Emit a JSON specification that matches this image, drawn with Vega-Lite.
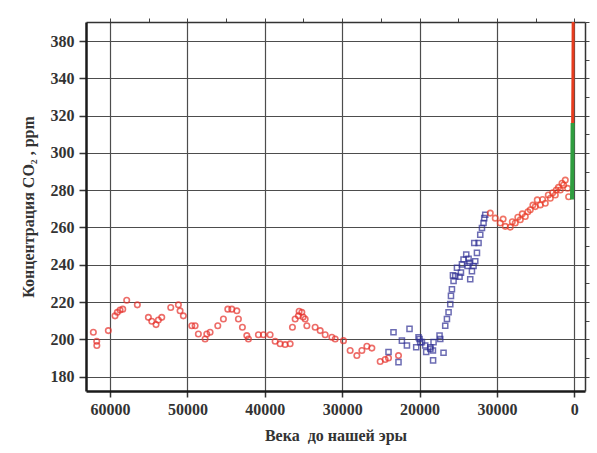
{
  "$schema": "https://vega.github.io/schema/vega-lite/v6.json",
  "width": 499,
  "height": 369,
  "autosize": {"type": "none"},
  "padding": {"left": 86, "top": 22, "right": 12, "bottom": 62},
  "background": "#ffffff",
  "config": {"view": {"stroke": null}, "font": "Liberation Serif"},
  "data": {
    "values": [
      {"s": "r", "t": 62150, "c": 203.8}, {"s": "r", "t": 61715, "c": 199.0}, {"s": "r", "t": 61700, "c": 196.7},
      {"s": "r", "t": 60215, "c": 204.7}, {"s": "r", "t": 59350, "c": 212.6}, {"s": "r", "t": 59050, "c": 214.5},
      {"s": "r", "t": 58700, "c": 215.7}, {"s": "r", "t": 58350, "c": 216.2}, {"s": "r", "t": 57840, "c": 221.0},
      {"s": "r", "t": 56465, "c": 218.5}, {"s": "r", "t": 55040, "c": 211.8}, {"s": "r", "t": 54600, "c": 209.7},
      {"s": "r", "t": 54050, "c": 207.9}, {"s": "r", "t": 53750, "c": 210.4}, {"s": "r", "t": 53310, "c": 211.8},
      {"s": "r", "t": 52150, "c": 217.1}, {"s": "r", "t": 51160, "c": 218.5}, {"s": "r", "t": 50945, "c": 215.3},
      {"s": "r", "t": 50520, "c": 212.6}, {"s": "r", "t": 49430, "c": 207.3}, {"s": "r", "t": 49000, "c": 207.3},
      {"s": "r", "t": 48580, "c": 202.9}, {"s": "r", "t": 47710, "c": 200.2}, {"s": "r", "t": 47490, "c": 202.9},
      {"s": "r", "t": 47065, "c": 203.8}, {"s": "r", "t": 46070, "c": 207.3}, {"s": "r", "t": 45345, "c": 210.9},
      {"s": "r", "t": 44775, "c": 216.2}, {"s": "r", "t": 44260, "c": 216.2}, {"s": "r", "t": 43610, "c": 215.3},
      {"s": "r", "t": 43405, "c": 210.9}, {"s": "r", "t": 42890, "c": 206.5}, {"s": "r", "t": 42320, "c": 202.0},
      {"s": "r", "t": 42110, "c": 200.2}, {"s": "r", "t": 40820, "c": 202.5}, {"s": "r", "t": 40170, "c": 202.5},
      {"s": "r", "t": 39310, "c": 202.5}, {"s": "r", "t": 38660, "c": 199.0}, {"s": "r", "t": 38015, "c": 197.6},
      {"s": "r", "t": 37370, "c": 197.2}, {"s": "r", "t": 36720, "c": 197.6}, {"s": "r", "t": 36425, "c": 206.5},
      {"s": "r", "t": 36075, "c": 210.9}, {"s": "r", "t": 35650, "c": 212.6}, {"s": "r", "t": 35560, "c": 215.1},
      {"s": "r", "t": 35210, "c": 214.5}, {"s": "r", "t": 35040, "c": 212.0}, {"s": "r", "t": 34780, "c": 210.9},
      {"s": "r", "t": 34560, "c": 207.3}, {"s": "r", "t": 33490, "c": 206.5}, {"s": "r", "t": 32840, "c": 204.7},
      {"s": "r", "t": 32195, "c": 202.5}, {"s": "r", "t": 31330, "c": 201.1}, {"s": "r", "t": 30900, "c": 200.2},
      {"s": "r", "t": 29830, "c": 199.3}, {"s": "r", "t": 28965, "c": 194.0}, {"s": "r", "t": 28100, "c": 191.3},
      {"s": "r", "t": 27450, "c": 194.0}, {"s": "r", "t": 26805, "c": 196.3}, {"s": "r", "t": 26160, "c": 195.3},
      {"s": "r", "t": 25085, "c": 188.1}, {"s": "r", "t": 24440, "c": 189.2}, {"s": "r", "t": 24010, "c": 190.0},
      {"s": "r", "t": 22720, "c": 191.3},
      {"s": "b", "t": 23365, "c": 203.8}, {"s": "b", "t": 24010, "c": 193.2}, {"s": "b", "t": 22720, "c": 187.8},
      {"s": "b", "t": 21295, "c": 205.6}, {"s": "b", "t": 22280, "c": 199.3}, {"s": "b", "t": 21630, "c": 196.7},
      {"s": "b", "t": 20430, "c": 195.8}, {"s": "b", "t": 20130, "c": 201.1}, {"s": "b", "t": 20000, "c": 200.2},
      {"s": "b", "t": 19910, "c": 198.5}, {"s": "b", "t": 19690, "c": 198.5}, {"s": "b", "t": 19265, "c": 196.7},
      {"s": "b", "t": 19140, "c": 193.2}, {"s": "b", "t": 18620, "c": 195.8}, {"s": "b", "t": 18600, "c": 194.9},
      {"s": "b", "t": 18270, "c": 194.0}, {"s": "b", "t": 18190, "c": 198.5}, {"s": "b", "t": 18250, "c": 188.7},
      {"s": "b", "t": 17415, "c": 202.0}, {"s": "b", "t": 17325, "c": 200.2}, {"s": "b", "t": 16900, "c": 192.8},
      {"s": "b", "t": 16680, "c": 207.3}, {"s": "b", "t": 16460, "c": 210.9}, {"s": "b", "t": 16250, "c": 214.5},
      {"s": "b", "t": 16030, "c": 218.9}, {"s": "b", "t": 15940, "c": 223.3}, {"s": "b", "t": 15815, "c": 226.9},
      {"s": "b", "t": 15605, "c": 231.3}, {"s": "b", "t": 15385, "c": 233.9}, {"s": "b", "t": 15685, "c": 234.3},
      {"s": "b", "t": 14830, "c": 233.6}, {"s": "b", "t": 14650, "c": 235.8}, {"s": "b", "t": 15165, "c": 238.4},
      {"s": "b", "t": 14520, "c": 240.2}, {"s": "b", "t": 14315, "c": 242.8}, {"s": "b", "t": 13965, "c": 245.5},
      {"s": "b", "t": 13665, "c": 243.2}, {"s": "b", "t": 13795, "c": 239.3}, {"s": "b", "t": 13450, "c": 232.2},
      {"s": "b", "t": 13230, "c": 236.6}, {"s": "b", "t": 13020, "c": 239.3}, {"s": "b", "t": 13540, "c": 241.1},
      {"s": "b", "t": 12800, "c": 241.9}, {"s": "b", "t": 12580, "c": 246.4}, {"s": "b", "t": 12930, "c": 251.7},
      {"s": "b", "t": 12375, "c": 251.7}, {"s": "b", "t": 12155, "c": 256.1}, {"s": "b", "t": 11935, "c": 259.7},
      {"s": "b", "t": 11730, "c": 262.4}, {"s": "b", "t": 11640, "c": 265.0}, {"s": "b", "t": 11510, "c": 266.8},
      {"s": "h", "t": 10860, "c": 267.7}, {"s": "h", "t": 10215, "c": 265.0}, {"s": "h", "t": 9570, "c": 262.4},
      {"s": "h", "t": 9200, "c": 264.5}, {"s": "h", "t": 8920, "c": 260.6}, {"s": "h", "t": 8275, "c": 260.2},
      {"s": "h", "t": 8015, "c": 263.1}, {"s": "h", "t": 7630, "c": 262.4}, {"s": "h", "t": 7300, "c": 265.5},
      {"s": "h", "t": 6980, "c": 264.1}, {"s": "h", "t": 6725, "c": 267.3}, {"s": "h", "t": 6335, "c": 265.9},
      {"s": "h", "t": 6000, "c": 268.4}, {"s": "h", "t": 5690, "c": 269.5}, {"s": "h", "t": 5350, "c": 272.0},
      {"s": "h", "t": 5040, "c": 271.2}, {"s": "h", "t": 4785, "c": 274.8}, {"s": "h", "t": 4395, "c": 272.1},
      {"s": "h", "t": 4100, "c": 275.0}, {"s": "h", "t": 3750, "c": 273.0}, {"s": "h", "t": 3360, "c": 277.4},
      {"s": "h", "t": 3100, "c": 275.7}, {"s": "h", "t": 2800, "c": 278.6}, {"s": "h", "t": 2455, "c": 277.4},
      {"s": "h", "t": 2330, "c": 280.1}, {"s": "h", "t": 2050, "c": 281.5}, {"s": "h", "t": 1810, "c": 280.1},
      {"s": "h", "t": 1590, "c": 283.7}, {"s": "h", "t": 1385, "c": 282.8}, {"s": "h", "t": 1165, "c": 285.4},
      {"s": "h", "t": 865, "c": 281.0}, {"s": "h", "t": 735, "c": 276.5},
      {"s": "g", "t": 300, "c": 275.0}, {"s": "g", "t": 260, "c": 290.0}, {"s": "g", "t": 220, "c": 316.0},
      {"s": "l", "t": 220, "c": 316.0}, {"s": "l", "t": 180, "c": 340.0}, {"s": "l", "t": 150, "c": 371.0}
    ]
  },
  "layer": [
    {
      "transform": [{"filter": "datum.s === 'r'"}],
      "mark": {"type": "point", "shape": "circle", "filled": false, "color": "#e6302a", "size": 30, "strokeWidth": 1.6, "clip": true},
      "encoding": {
        "x": {
          "field": "t", "type": "quantitative",
          "scale": {"domain": [-1380, 63100], "reverse": true, "nice": false, "zero": false},
          "axis": {
            "orient": "bottom",
            "values": [0, 10000, 20000, 30000, 40000, 50000, 60000],
            "format": "d",
            "labelExpr": "datum.value === 10000 ? '30000' : datum.label",
            "labelFlush": false,
            "title": "Века\u00a0 до нашей эры",
            "grid": true, "gridColor": "#4d4d4d", "gridWidth": 1.2,
            "domainColor": "#1a1a1a", "domainWidth": 2.5,
            "tickColor": "#333333", "tickWidth": 1.5, "tickSize": 6,
            "labelPadding": 4, "labelFont": "Liberation Serif", "labelFontSize": 16, "labelFontWeight": "bold", "labelColor": "#333333",
            "titleFont": "Liberation Serif", "titleFontSize": 16, "titleFontWeight": "bold", "titleColor": "#333333", "titlePadding": 10
          }
        },
        "y": {
          "field": "c", "type": "quantitative",
          "scale": {"domain": [172.3, 370.2], "nice": false, "zero": false},
          "axis": {
            "orient": "left",
            "values": [180, 200, 220, 240, 260, 280, 300, 320, 340, 360],
            "labelExpr": "datum.value === 360 ? '380' : datum.label",
            "labelFlush": false,
            "title": "Концентрация CO₂ , ppm",
            "grid": true, "gridColor": "#4d4d4d", "gridWidth": 1.2,
            "domainColor": "#1a1a1a", "domainWidth": 2.5,
            "tickColor": "#333333", "tickWidth": 1.5, "tickSize": 7,
            "labelPadding": 5, "labelFont": "Liberation Serif", "labelFontSize": 16, "labelFontWeight": "bold", "labelColor": "#333333",
            "titleFont": "Liberation Serif", "titleFontSize": 16, "titleFontWeight": "bold", "titleColor": "#333333", "titlePadding": 14
          }
        }
      }
    },
    {
      "transform": [{"filter": "datum.s === 'b'"}],
      "mark": {"type": "point", "shape": "square", "filled": false, "color": "#2f2f94", "size": 26, "strokeWidth": 1.5, "clip": true},
      "encoding": {
        "x": {"field": "t", "type": "quantitative", "axis": null},
        "y": {"field": "c", "type": "quantitative", "axis": null}
      }
    },
    {
      "transform": [{"filter": "datum.s === 'h'"}],
      "mark": {"type": "point", "shape": "circle", "filled": false, "color": "#ea3a26", "size": 30, "strokeWidth": 1.6, "clip": true},
      "encoding": {
        "x": {"field": "t", "type": "quantitative", "axis": null},
        "y": {"field": "c", "type": "quantitative", "axis": null}
      }
    },
    {
      "transform": [{"filter": "datum.s === 'g'"}],
      "mark": {"type": "line", "color": "#2f9e3f", "strokeWidth": 4, "clip": true},
      "encoding": {
        "x": {
          "field": "t", "type": "quantitative",
          "axis": {
            "orient": "top",
            "values": [0, 5000, 10000, 15000, 20000, 25000, 30000, 35000, 40000, 45000, 50000, 55000, 60000],
            "labels": false, "title": null, "grid": false,
            "domainColor": "#333333", "domainWidth": 1.5,
            "tickColor": "#444444", "tickWidth": 1, "tickSize": 4
          }
        },
        "y": {
          "field": "c", "type": "quantitative",
          "axis": {
            "orient": "right",
            "values": [180, 190, 200, 210, 220, 230, 240, 250, 260, 270, 280, 290, 300, 310, 320, 330, 340, 350, 360, 370],
            "labels": false, "title": null, "grid": false,
            "domainColor": "#333333", "domainWidth": 1.5,
            "tickColor": "#444444", "tickWidth": 1, "tickSize": 4
          }
        },
        "order": {"field": "c", "type": "quantitative"}
      }
    },
    {
      "transform": [{"filter": "datum.s === 'l'"}],
      "mark": {"type": "line", "color": "#e63c1e", "strokeWidth": 3, "clip": true},
      "encoding": {
        "x": {"field": "t", "type": "quantitative", "axis": null},
        "y": {"field": "c", "type": "quantitative", "axis": null},
        "order": {"field": "c", "type": "quantitative"}
      }
    }
  ],
  "resolve": {"axis": {"x": "independent", "y": "independent"}}
}
